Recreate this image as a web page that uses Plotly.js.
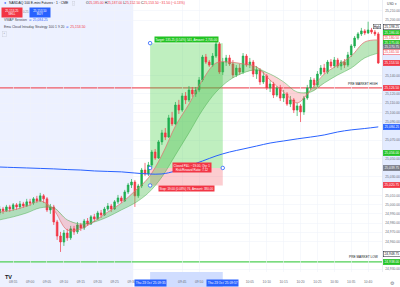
<!DOCTYPE html>
<html><head><meta charset="utf-8">
<script src="https://cdn.plot.ly/plotly-3.0.1.min.js"></script>
<style>html,body{margin:0;padding:0;background:#fff;overflow:hidden}#chart{width:400px;height:287px}</style>
</head><body><div id="chart"></div>
<script>
// ---------- data ----------
const sessionDate = '2025-10-23';
const firstBarMinute = 8 * 60 + 51; // 08:51, 1-minute bars
const opens = [
24991.0,24995.25,24993.25,24997.5,24995.25,24999.75,24997.5,25000.75,24998.5,25003.0,
25001.75,25006.25,25004.0,25009.5,25006.25,24994.25,24997.5,24981.25,24966.0,24959.5,
24969.25,24964.0,24973.75,24970.5,24978.0,24974.75,24982.25,24979.0,24986.75,24984.5,
24991.0,24988.75,24995.25,24998.5,24995.25,25003.0,25007.25,25004.0,25013.75,25021.25,
25024.5,25009.5,25020.25,25037.5,25033.25,25043.0,25057.0,25050.5,25068.0,25077.75,
25073.25,25094.0,25087.5,25108.0,25102.5,25117.75,25113.5,25124.25,25120.0,25124.25,
25135.0,25160.0,25154.5,25151.25,25161.0,25174.0,25143.75,25154.5,25159.0,25152.5,
25140.5,25148.0,25143.75,25161.0,25151.25,25154.5,25141.5,25146.0,25133.0,25139.5,
25126.5,25130.75,25118.75,25126.5,25115.5,25120.0,25109.0,25113.5,25102.5,25107.0,
25100.5,25115.5,25126.5,25135.0,25129.75,25141.5,25148.0,25143.75,25154.5,25150.25,
25156.75,25150.25,25154.5,25151.25,25162.25,25172.0,25180.5,25185.0,25188.25,25186.0,
25189.25,25187.0,25185.0];
const highs = [
24998.5,24997.5,24999.75,24999.75,25001.75,25001.75,25004.0,25003.0,25006.25,25006.25,
25008.25,25009.5,25012.75,25011.5,25008.25,25000.75,24999.75,24983.5,24970.5,24972.5,
24973.75,24977.0,24977.0,24981.25,24980.25,24984.5,24985.5,24988.75,24990.0,24993.25,
24994.25,24997.5,25001.75,25000.75,25005.0,25010.5,25009.5,25016.0,25023.5,25027.75,
25026.75,25022.5,25039.75,25045.25,25046.25,25059.25,25060.25,25070.0,25081.0,25083.0,
25097.25,25100.5,25111.25,25113.5,25121.0,25122.0,25128.5,25127.5,25127.5,25138.25,
25162.25,25163.25,25156.75,25164.25,25181.75,25176.25,25159.0,25162.25,25162.25,25156.75,
25151.25,25152.5,25164.25,25163.25,25159.0,25156.75,25150.25,25148.0,25143.75,25141.5,
25135.0,25133.0,25128.5,25129.75,25124.25,25122.0,25117.75,25115.5,25110.25,25109.0,
25117.75,25129.75,25138.25,25137.25,25144.75,25151.25,25152.5,25156.75,25157.75,25160.0,
25159.0,25156.75,25157.75,25165.5,25174.0,25182.75,25187.0,25191.5,25190.25,25198.25,
25191.5,25189.25,25187.0];
const lows = [
24988.75,24990.0,24992.0,24992.0,24993.25,24994.25,24995.25,24996.5,24997.5,24998.5,
24999.75,25001.75,25003.0,25001.75,24992.0,24990.0,24978.0,24961.75,24948.75,24955.25,
24960.75,24961.75,24967.25,24968.25,24971.5,24972.5,24977.0,24978.0,24981.25,24983.5,
24985.5,24987.75,24993.25,24992.0,24994.25,25000.75,25001.75,25003.0,25011.5,25018.0,
24997.5,25007.25,25018.0,25031.0,25031.0,25040.75,25048.5,25049.5,25064.75,25070.0,
25072.25,25085.25,25086.25,25098.25,25100.5,25109.0,25111.25,25116.75,25116.75,25122.0,
25133.0,25152.5,25149.25,25149.25,25159.0,25141.5,25140.5,25150.25,25150.25,25137.25,
25138.25,25140.5,25141.5,25149.25,25148.0,25138.25,25136.25,25129.75,25130.75,25124.25,
25122.0,25115.5,25116.75,25112.25,25111.25,25107.0,25105.75,25099.25,25096.0,25089.5,
25097.25,25113.5,25124.25,25126.5,25127.5,25139.5,25141.5,25141.5,25148.0,25148.0,
25148.0,25146.0,25148.0,25149.25,25160.0,25169.75,25178.5,25182.75,25183.75,25185.0,
25185.0,25182.75,25152.5];
const closes = [
24995.25,24993.25,24997.5,24995.25,24999.75,24997.5,25000.75,24998.5,25003.0,25001.75,
25006.25,25004.0,25009.5,25006.25,24994.25,24997.5,24981.25,24966.0,24959.5,24969.25,
24964.0,24973.75,24970.5,24978.0,24974.75,24982.25,24979.0,24986.75,24984.5,24991.0,
24988.75,24995.25,24998.5,24995.25,25003.0,25007.25,25004.0,25013.75,25021.25,25024.5,
25009.5,25020.25,25037.5,25033.25,25043.0,25057.0,25050.5,25068.0,25077.75,25073.25,
25094.0,25087.5,25108.0,25102.5,25117.75,25113.5,25124.25,25120.0,25124.25,25135.0,
25160.0,25154.5,25151.25,25161.0,25174.0,25143.75,25154.5,25159.0,25152.5,25140.5,
25148.0,25143.75,25161.0,25151.25,25154.5,25141.5,25146.0,25133.0,25139.5,25126.5,
25130.75,25118.75,25126.5,25115.5,25120.0,25109.0,25113.5,25102.5,25107.0,25100.5,
25115.5,25126.5,25135.0,25129.75,25141.5,25148.0,25143.75,25154.5,25150.25,25156.75,
25150.25,25154.5,25151.25,25162.25,25172.0,25180.5,25185.0,25188.25,25186.0,25189.25,
25187.0,25185.0,25153.5];
// indicator values read every 4 bars
const sampleStep = 4;
const emaFast = [24992.0,24994.25,24998.5,25004.0,24994.25,24972.5,24973.75,24982.25,24992.0,25001.75,
25014.75,25029.0,25053.75,25085.25,25109.0,25135.0,25153.5,25154.5,25152.5,25149.25,
25135.0,25122.0,25110.25,25124.25,25141.5,25151.25,25161.0,25176.25,25178.5];
const emaSlow = [24983.5,24986.75,24991.0,24996.5,24996.5,24983.5,24979.0,24981.25,24986.75,24994.25,
25001.75,25012.75,25030.0,25053.75,25077.75,25102.5,25122.0,25135.0,25142.75,25146.0,
25141.5,25133.0,25122.0,25122.0,25131.75,25140.5,25148.0,25159.0,25164.25];
const vwap = [25040.75,25040.25,25039.75,25039.25,25038.75,25038.0,25037.5,25036.5,25036.0,25035.5,
25034.25,25033.25,25033.25,25036.5,25042.0,25047.25,25052.75,25057.0,25060.25,25063.5,
25066.75,25069.0,25071.25,25073.25,25075.5,25078.75,25081.0,25082.5,25084.25];
// levels
const preMarketHigh = 25126.50;
const preMarketLow = 24938.00;
const visibleHigh = 25198.25;
const visibleLow = 24948.75;
const sessionOpen = '2025-10-23 09:30:30';
const posStart = '09:35:30', posEnd = '09:57:00';
const posEntry = 25039.75, posTarget = 25175.00, posStop = 25020.75;
const bidAsk = [25153.25, 25153.50];
// extra price-scale labels
const axisLabelPrices = [25186.00, 25180.50, 25175.00, 25170.75, 25165.50, 25153.50, 25126.50, 25084.25, 25056.00, 25039.75, 25020.75, 24938.00];
const axisLabelFill =   ['#22c322','#ffffff','#22c322','#787b86','#ffffff','#f23645','#f23645','#2962ff','#22c322','#787b86','#f23645','#22c322'];
const axisLabelInk =    ['#ffffff','#f23645','#ffffff','#ffffff','#f23645','#ffffff','#ffffff','#ffffff','#ffffff','#ffffff','#ffffff','#ffffff'];
const xRange = ['2025-10-23 08:51:06', '2025-10-23 10:44:06'];
const yRange = [24927.0, 25221.75];
const yTickStep = 10;
const xTickFirst = 8 * 60 + 55, xTickLast = 10 * 60 + 40, xTickStep = 5;

// ---------- helpers ----------
const pad = n => String(n).padStart(2, '0');
const hm = m => pad(Math.floor(m / 60)) + ':' + pad(Math.round(m % 60));
const stamp = m => sessionDate + ' ' + hm(m);
const fmt = v => v.toLocaleString('en-US', {minimumFractionDigits: 2, maximumFractionDigits: 2});
const toMin = s => { const p = s.split(':').map(Number); return p[0] * 60 + p[1] + (p[2] || 0) / 60; };
const withSec = m => { const s = Math.round(m * 60); return sessionDate + ' ' + pad(Math.floor(s / 3600)) + ':' + pad(Math.floor(s / 60) % 60) + ':' + pad(s % 60); };

const times = opens.map((_, i) => stamp(firstBarMinute + i));
const sampleTimes = emaFast.map((_, k) => times[k * sampleStep]);
const pS = withSec(toMin(posStart)), pE = withSec(toMin(posEnd));
const pMid = withSec((toMin(posStart) + toMin(posEnd)) / 2);

const UP = '#1fae50', DN = '#f23645';
const FONT = 'Liberation Sans, Arial, sans-serif';
const W = 382, H = 272;
const pxPerPt = H / (yRange[1] - yRange[0]);
const P = (x, y) => ({xref: 'paper', yref: 'paper', x: x / W, y: 1 - y / H});

const bullTop = emaFast.map((f, k) => Math.max(f, emaSlow[k]));
const bearBot = emaFast.map((f, k) => Math.min(f, emaSlow[k]));

const noHover = {hoverinfo: 'skip', showlegend: false};
const traces = [
  {x: sampleTimes, y: emaSlow, mode: 'lines', line: {width: 0, shape: 'spline'}, ...noHover},
  {x: sampleTimes, y: bullTop, mode: 'lines', fill: 'tonexty', fillcolor: 'rgba(76,190,80,0.38)', line: {width: 0, shape: 'spline'}, ...noHover},
  {x: sampleTimes, y: emaSlow, mode: 'lines', line: {width: 0, shape: 'spline'}, ...noHover},
  {x: sampleTimes, y: bearBot, mode: 'lines', fill: 'tonexty', fillcolor: 'rgba(242,54,69,0.22)', line: {width: 0, shape: 'spline'}, ...noHover},
  {x: sampleTimes, y: emaSlow, mode: 'lines', line: {color: 'rgba(76,175,80,0.7)', width: 0.7, shape: 'spline'}, ...noHover},
  {x: sampleTimes, y: emaFast, mode: 'lines', line: {color: 'rgba(226,110,110,0.9)', width: 0.8, shape: 'spline'}, ...noHover},
  {x: sampleTimes, y: vwap, mode: 'lines', line: {color: '#2962ff', width: 1, shape: 'spline'}, ...noHover},
  {type: 'candlestick', x: times, open: opens, high: highs, low: lows, close: closes,
   increasing: {line: {color: UP, width: 0.7}, fillcolor: UP},
   decreasing: {line: {color: DN, width: 0.7}, fillcolor: DN},
   whiskerwidth: 0, ...noHover},
  {x: [pS, pS, pE, pS], y: [posTarget, posEntry, posEntry, posStop], mode: 'markers',
   marker: {size: 3.5, color: '#ffffff', line: {color: '#2962ff', width: 0.8}}, ...noHover}
];

const shapes = [
  {type: 'rect', xref: 'x', yref: 'paper', x0: xRange[0], x1: sessionOpen, y0: -0.065, y1: 1, fillcolor: 'rgba(41,98,255,0.085)', line: {width: 0}, layer: 'below'},
  {type: 'rect', xref: 'x', yref: 'y', x0: pS, x1: pE, y0: posEntry, y1: posTarget, fillcolor: 'rgba(60,205,60,0.33)', line: {width: 0}, layer: 'between'},
  {type: 'rect', xref: 'x', yref: 'y', x0: pS, x1: pE, y0: posStop, y1: posEntry, fillcolor: 'rgba(242,54,69,0.25)', line: {width: 0}, layer: 'between'},
  {type: 'line', xref: 'paper', yref: 'y', x0: 0, x1: 1, y0: preMarketHigh, y1: preMarketHigh, line: {color: '#ef5b66', width: 1.3}, layer: 'between'},
  {type: 'line', xref: 'paper', yref: 'y', x0: 0, x1: 1, y0: preMarketLow, y1: preMarketLow, line: {color: '#4fcf55', width: 1.3}, layer: 'between'},
  {type: 'rect', xref: 'paper', yref: 'y', x0: 1, x1: 1.05, y0: posStop, y1: posTarget, fillcolor: 'rgba(41,98,255,0.13)', line: {width: 0}, layer: 'below'},
  {type: 'rect', xref: 'x', yref: 'paper', x0: pS, x1: pE, y0: -0.062, y1: 0, fillcolor: 'rgba(41,98,255,0.22)', line: {width: 0}, layer: 'below'}
];

const small = (size, color) => ({family: FONT, size: size, color: color});
const ann = [];
const A = o => ann.push(Object.assign({showarrow: false, xanchor: 'left', yanchor: 'middle'}, o));

// header
const L = closes.length - 1;
const chg = closes[L] - closes[L - 1];
const red = t => '<span style="color:#f23645">' + t + '</span>';
A({...P(1.5, 3.5), text: '●', font: small(3.6, '#2962ff')});
A({...P(6.5, 3.5), text: 'NASDAQ 100 E-mini Futures · 1 · CME', font: small(3.4, '#131722')});
A({...P(72, 3.5), text: '◦', font: small(3.4, '#787b86'), bordercolor: '#c9ccd6', borderwidth: 0.4, borderpad: 0.3});
A({...P(84, 3.5), text: 'O' + red(fmt(opens[L])) + ' H' + red(fmt(highs[L])) + ' L' + red(fmt(lows[L])) + ' C' + red(fmt(closes[L])) + ' ' + red((chg < 0 ? '−' : '+') + fmt(Math.abs(chg)) + ' (' + (chg < 0 ? '−' : '+') + Math.abs(chg / closes[L - 1] * 100).toFixed(2) + '%)'), font: small(3.4, '#131722')});
A({...P(12, 12.5), xanchor: 'center', text: fmt(bidAsk[0]) + '<br>SELL', bgcolor: '#f23645', font: small(3, '#ffffff'), width: 20, height: 9, borderpad: 0});
A({...P(26, 12.5), xanchor: 'center', text: fmt(bidAsk[1] - bidAsk[0]), font: small(2.8, '#787b86')});
A({...P(40, 12.5), xanchor: 'center', text: fmt(bidAsk[1]) + '<br>BUY', bgcolor: '#2962ff', font: small(3, '#ffffff'), width: 20, height: 9, borderpad: 0});
A({...P(1.5, 20.5), text: 'VWAP Session  <span style="color:#2962ff">⊘</span> <span style="color:#2962ff">' + fmt(vwap[vwap.length - 1]) + '</span>', font: small(3.4, '#434651')});
A({...P(1.5, 27), text: 'Ema Cloud Intraday Strategy 100 1 9 20  <span style="color:#2962ff">⊘</span> ' + red(fmt(closes[L])), font: small(3.4, '#434651')});
A({...P(2, 33.5), text: '⌃', font: small(3, '#434651'), bordercolor: '#c9ccd6', borderwidth: 0.4, borderpad: 0.4});

// price scale labels
const labelCenters = []; // in price units, to hide tick labels under them
const axisLab = (price, fill, ink, yshift) => {
  labelCenters.push(price + (yshift || 0) / pxPerPt);
  A({xref: 'paper', x: 1, xshift: 1, yref: 'y', y: price, yshift: yshift || 0, text: fmt(price),
    bgcolor: fill, bordercolor: fill === '#ffffff' ? ink : fill, borderwidth: 0.5, borderpad: 0.4, width: 16, height: 4,
    font: small(3.3, ink)});
};
axisLabelPrices.forEach((p, k) => axisLab(p, axisLabelFill[k], axisLabelInk[k]));
axisLab(visibleHigh, '#ffffff', '#131722', -5);
axisLab(visibleLow, '#ffffff', '#131722', -2);
A({xref: 'paper', x: 1, xshift: -1, xanchor: 'right', yref: 'y', y: visibleHigh, yshift: -5, text: 'High', bgcolor: '#ffffff', bordercolor: '#131722', borderwidth: 0.4, borderpad: 0.3, font: small(3.1, '#131722')});
A({xref: 'paper', x: 1, xshift: 3, yref: 'paper', y: 1 - 4 / H, text: 'USD ▾', font: small(3.3, '#434651')});

// pre-market texts
A({xref: 'paper', x: 1, xshift: -2, xanchor: 'right', yref: 'y', y: preMarketHigh, yanchor: 'bottom', text: 'PRE MARKET HIGH', font: small(3.2, '#131722')});
A({xref: 'paper', x: 1, xshift: -2, xanchor: 'right', yref: 'y', y: preMarketLow, yanchor: 'bottom', yshift: 1, text: 'PRE MARKET LOW', font: small(3.2, '#131722')});

// position tool labels
const tgt = posTarget - posEntry, stp = posEntry - posStop;
A({xref: 'x', x: pMid, xanchor: 'center', yref: 'y', y: posTarget, yanchor: 'bottom', text: 'Target: ' + fmt(tgt) + ' (' + (tgt / posEntry * 100).toFixed(2) + '%) ' + (tgt * 4) + ', Amount: ' + fmt(tgt * 20), bgcolor: '#22c322', borderpad: 0.6, font: small(3, '#ffffff')});
A({xref: 'x', x: pMid, xanchor: 'center', xshift: 6, yref: 'y', y: posEntry, yanchor: 'middle', text: 'Closed P&L: −' + fmt(stp) + ', Qty: 1<br>Risk/Reward Ratio: ' + (tgt / stp).toFixed(2), bgcolor: '#f23645', borderpad: 0.6, font: small(3, '#ffffff')});
A({xref: 'x', x: pMid, xanchor: 'center', yref: 'y', y: posStop, yanchor: 'top', text: 'Stop: ' + fmt(stp) + ' (' + (stp / posEntry * 100).toFixed(2) + '%) ' + (stp * 4) + ', Amount: ' + fmt(stp * 20), bgcolor: '#f23645', borderpad: 0.6, font: small(3, '#ffffff')});

// time-scale labels of the position
[[pS, posStart], [pE, posEnd]].forEach(([t, s]) => A({xref: 'x', x: t, xanchor: 'center', yref: 'paper', y: -11 / H,
  text: "Thu 23 Oct '25 " + s.slice(0, 5), bgcolor: '#2962ff', borderpad: 0.8, font: small(3.2, '#ffffff')}));

// logo and gear
A({...P(2.5, 277), text: '<b>TV</b>', font: {family: FONT, size: 5.5, color: '#131722'}});
A({xref: 'paper', x: 1, xshift: 6, yref: 'paper', y: -11 / H, text: '⚙', font: small(5, '#787b86')});

// time ticks, hiding the ones covered by the position's time labels
const covered = [toMin(posStart), toMin(posEnd)];
const xTicks = [], xText = [];
for (let m = xTickFirst; m <= xTickLast; m += xTickStep) {
  if (covered.some(c => Math.abs(c - m) < 5.2)) continue;
  xTicks.push(stamp(m)); xText.push(hm(m));
}
// price ticks, hiding those under a price label (like the price scale does)
const yTicks = [], yText = [];
for (let v = Math.ceil(yRange[0] / yTickStep) * yTickStep; v <= yRange[1]; v += yTickStep) {
  if (labelCenters.some(c => Math.abs(c - v) * pxPerPt < 5.2)) continue;
  if ((yRange[1] - v) * pxPerPt < 8) continue; // keep clear of the currency label
  yTicks.push(v); yText.push(fmt(v));
}

const layout = {
  width: 400, height: 287,
  margin: {l: 0, r: 18, t: 0, b: 15},
  paper_bgcolor: '#ffffff', plot_bgcolor: 'rgba(0,0,0,0)',
  showlegend: false,
  font: {family: FONT, size: 3.4, color: '#434651'},
  xaxis: {type: 'date', range: xRange, tickvals: xTicks, ticktext: xText, tickfont: small(3.3, '#6a6d78'),
          ticks: '', ticklabelstandoff: 7, showgrid: true, gridcolor: '#f0f3fa', gridwidth: 0.6,
          zeroline: false, showline: false, rangeslider: {visible: false}, fixedrange: true},
  yaxis: {side: 'right', range: yRange, tickvals: yTicks, ticktext: yText, tickfont: small(3.3, '#6a6d78'),
          ticks: '', ticklabelstandoff: 2, showgrid: true, gridcolor: '#f0f3fa', gridwidth: 0.6,
          zeroline: false, showline: true, linecolor: '#e0e3eb', linewidth: 0.6, fixedrange: true},
  shapes: shapes,
  annotations: ann
};
Plotly.newPlot('chart', traces, layout, {displayModeBar: false, staticPlot: true});
</script>
</body></html>
